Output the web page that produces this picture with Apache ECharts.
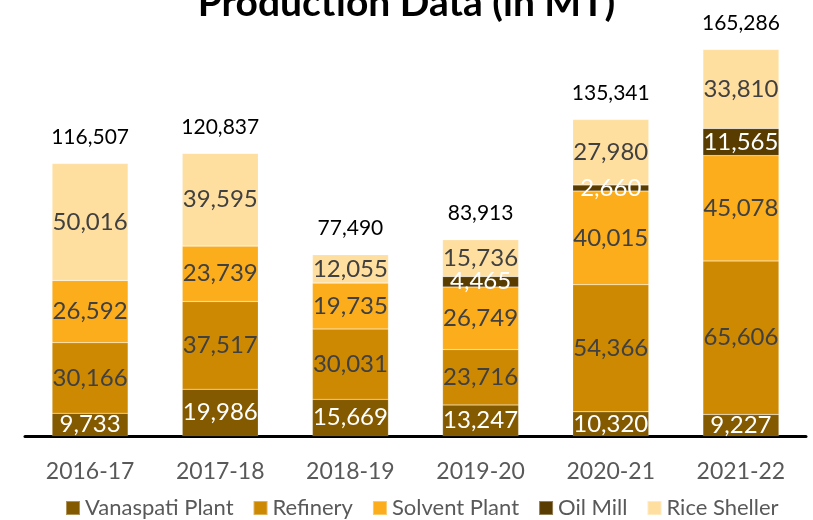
<!DOCTYPE html>
<html>
<head>
<meta charset="utf-8">
<script src="https://cdn.jsdelivr.net/npm/echarts@6/dist/echarts.min.js"></script>
<style>
  html, body { margin: 0; padding: 0; background: #fff; }
</style>
</head>
<body>
<div id="chart" style="width: 813px; height: 520px"></div>
<script>
// data (MT)
var years = ["2016-17", "2017-18", "2018-19", "2019-20", "2020-21", "2021-22"];
var vanaspati = [9733, 19986, 15669, 13247, 10320, 9227];
var refinery = [30166, 37517, 30031, 23716, 54366, 65606];
var solvent = [26592, 23739, 19735, 26749, 40015, 45078];
var oilMill = [0, 0, 0, 4465, 2660, 11565];
var riceSheller = [50016, 39595, 12055, 15736, 27980, 33810];
var totals = [116507, 120837, 77490, 83913, 135341, 165286];

var font = "Lato, 'Noto Sans', sans-serif";

function fmt(v) {
  return v ? v.toLocaleString("en-US") : "";
}

function part(name, data, color, labelColor) {
  return {
    name: name,
    type: "bar",
    stack: "all",
    barWidth: 76,
    data: data,
    itemStyle: { color: color, borderColor: "rgba(255,255,255,0.35)", borderWidth: 0.5 },
    label: {
      show: true,
      position: "inside",
      color: labelColor,
      fontSize: 24,
      fontFamily: font,
      formatter: function (p) { return fmt(p.value); }
    }
  };
}

var myChart = echarts.init(document.getElementById("chart"));

var option = {
  animation: false,
  title: {
    text: "Production Data (in MT)",
    left: "center",
    top: -21,
    textStyle: { fontSize: 39, fontWeight: "bold", color: "#000", fontFamily: font }
  },
  legend: {
    bottom: -4,
    left: 60,
    itemWidth: 14,
    itemHeight: 14,
    itemGap: 19,
    icon: "rect",
    data: ["Vanaspati Plant", "Refinery", "Solvent Plant", "Oil Mill", "Rice Sheller"],
    textStyle: { fontSize: 22, color: "#595959", fontFamily: font }
  },
  grid: { left: 25, right: 7, top: 15, bottom: 84 },
  xAxis: {
    type: "category",
    data: years,
    axisLine: { lineStyle: { color: "#000", width: 3 } },
    axisTick: { show: false },
    axisLabel: { fontSize: 23, color: "#595959", fontFamily: font, margin: 24 }
  },
  yAxis: {
    type: "value",
    min: 0,
    max: 180000,
    show: false,
    splitLine: { show: false }
  },
  series: [
    part("Vanaspati Plant", vanaspati, "#845A00", "#ffffff"),
    part("Refinery", refinery, "#CD8902", "#404040"),
    part("Solvent Plant", solvent, "#FBAD1C", "#404040"),
    part("Oil Mill", oilMill, "#583C00", "#ffffff"),
    part("Rice Sheller", riceSheller, "#FFDFA0", "#404040"),
    {
      name: "Total",
      type: "bar",
      stack: "all",
      barWidth: 76,
      data: totals.map(function () { return 0; }),
      itemStyle: { color: "transparent" },
      label: {
        show: true,
        position: "top",
        distance: 16,
        color: "#000",
        fontSize: 21,
        fontFamily: font,
        formatter: function (p) { return fmt(totals[p.dataIndex]); }
      }
    }
  ]
};

myChart.setOption(option);
</script>
</body>
</html>
